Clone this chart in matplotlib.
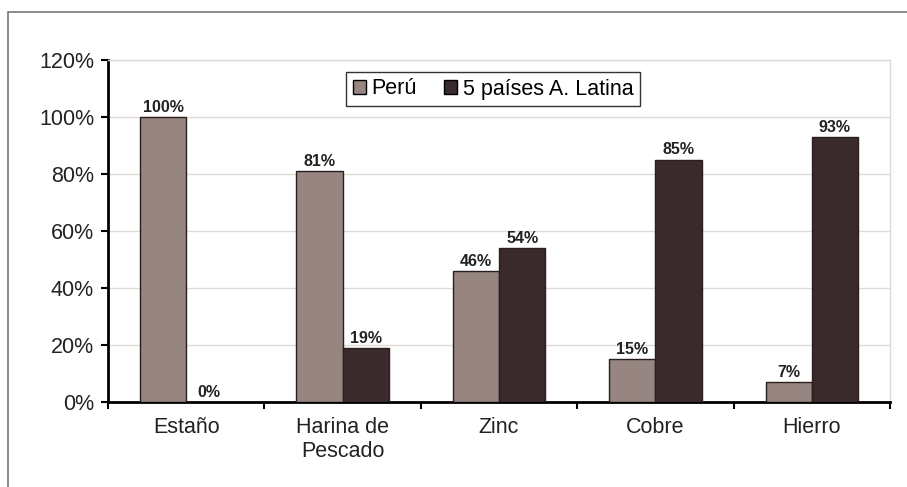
import matplotlib
matplotlib.use("Agg")
from matplotlib import pyplot as plt
from matplotlib.patches import Rectangle
from matplotlib.ticker import FuncFormatter
import numpy as np

categories = ["Estaño", "Harina de\nPescado", "Zinc", "Cobre", "Hierro"]
peru = [100, 81, 46, 15, 7]
latam = [0, 19, 54, 85, 93]
series_names = ["Perú", "5 países A. Latina"]

c_peru = "#968580"
c_latam = "#3a2a2c"

plt.rcParams['font.family'] = ['Liberation Sans', 'DejaVu Sans']

fig = plt.figure(figsize=(9.07, 4.87), dpi=100)
ax = fig.add_axes([108/907, 1-402/487, (890-108)/907, (402-60)/487])

x = np.arange(len(categories))
w = 0.295
b1 = ax.bar(x - w/2, peru, w, color=c_peru, edgecolor="#2a1e1e", linewidth=1, label=series_names[0], zorder=3)
b2 = ax.bar(x + w/2, latam, w, color=c_latam, edgecolor="#2a1e1e", linewidth=1, label=series_names[1], zorder=3)

lab_font = dict(family=['Liberation Sans Narrow', 'Liberation Sans', 'DejaVu Sans'],
                fontsize=11.5, fontweight='bold', color="#222222")
for bars, vals in ((b1, peru), (b2, latam)):
    for r, v in zip(bars, vals):
        ax.text(r.get_x() + r.get_width()/2, v + 0.8, f"{v}%", ha='center', va='bottom', **lab_font)

ax.set_xlim(-0.5, len(categories) - 0.5)
ax.set_ylim(0, 120)
ax.set_yticks(np.arange(0, 121, 20))
ax.yaxis.set_major_formatter(FuncFormatter(lambda v, p: f"{int(v)}%"))
ax.grid(axis='y', color="#dedad6", linewidth=1, zorder=0)
ax.set_axisbelow(True)

ax.set_xticks(x)
ax.set_xticklabels(categories, linespacing=1.15)
ax.set_xticks(np.arange(-0.5, len(categories)), minor=True)
ax.tick_params(axis='x', which='major', length=0, pad=11, labelsize=15.5, labelcolor="#222222")
ax.tick_params(axis='x', which='minor', length=5, width=1.5, direction='out', color='black')
ax.tick_params(axis='y', length=5, width=1.5, labelsize=15.5, pad=5, color='black', labelcolor="#222222")

for s in ('left', 'bottom'):
    ax.spines[s].set_linewidth(2)
    ax.spines[s].set_color('black')
for s in ('top', 'right'):
    ax.spines[s].set_linewidth(1)
    ax.spines[s].set_color("#dedad6")

leg = ax.legend(loc='center', bbox_to_anchor=(493/907, 1-89/487), bbox_transform=fig.transFigure,
                ncol=2, frameon=True, fancybox=False, fontsize=15.5, handlelength=0.6, handleheight=0.6,
                handletextpad=0.25, columnspacing=1.3, borderpad=0.3, borderaxespad=0)
leg.get_frame().set_edgecolor('black')
leg.get_frame().set_linewidth(1)
for h in leg.legend_handles:
    h.set_edgecolor('black')

fig.patches.append(Rectangle((8/907, -0.1), 905/907, 1.1 - 12/487, transform=fig.transFigure,
                             fill=False, edgecolor="#777777", linewidth=1.2))

fig.savefig("out.png", dpi=100)
